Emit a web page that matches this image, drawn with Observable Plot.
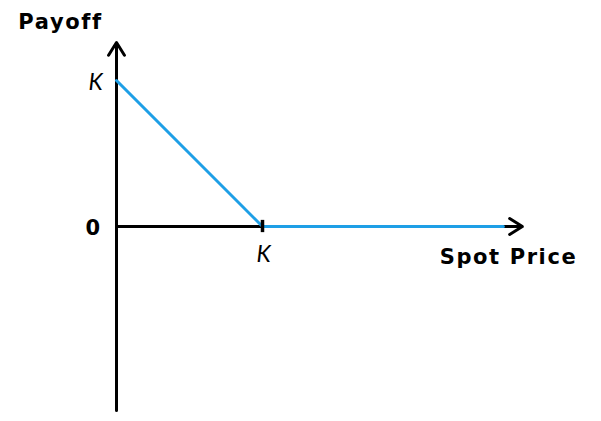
<!DOCTYPE html>
<html><head><meta charset="utf-8">
<script src="https://cdn.jsdelivr.net/npm/d3@7"></script>
<script src="https://cdn.jsdelivr.net/npm/@observablehq/plot@0.6"></script>
<style>
body{margin:0;background:#fff;}
g[font-weight="bold"] text{letter-spacing:1.6px;}
</style>
</head><body><div id="chart"></div>
<script>
const K = 100;
const payoffX = [0, K, 265];
const payoffY = [K, 0, 0];
const axisExtent = {xMax: 278, yMin: -126, yMax: 126};
const yTickValues = [K, 0];
const yTickLabels = ["K", "0"];
const xTickValues = [K];
const xTickLabels = ["K"];
const yTitle = "Payoff";
const xTitle = "Spot Price";

const payoff = payoffX.map((x, i) => ({x, y: payoffY[i]}));
const boldFont = "'DejaVu Sans', sans-serif";
const italicFont = "Lato, 'Open Sans', sans-serif";

const chart = Plot.plot({
  width: 601, height: 421,
  margin: 0,
  x: {domain: [0, 300], range: [116, 554], axis: null},
  y: {domain: [-130, 130], range: [415.8, 36.2], axis: null},
  style: {fontFamily: italicFont, background: "#fff"},
  marks: [
    Plot.arrow([{x1: 0, y1: axisExtent.yMin, x2: 0, y2: axisExtent.yMax}], {x1: "x1", y1: "y1", x2: "x2", y2: "y2", stroke: "#000", strokeWidth: 3, headLength: 7.5, headAngle: 64}),
    Plot.arrow([{x1: 0, y1: 0, x2: axisExtent.xMax, y2: 0}], {x1: "x1", y1: "y1", x2: "x2", y2: "y2", stroke: "#000", strokeWidth: 3, headLength: 7.5, headAngle: 64}),
    Plot.line(payoff, {x: "x", y: "y", stroke: "#1e9fe6", strokeWidth: 3, strokeLinejoin: "miter"}),
    Plot.ruleX(xTickValues, {y1: -4.2, y2: 4.2, stroke: "#000", strokeWidth: 3.5}),
    // y tick labels: "K" italic, "0" bold
    Plot.text(yTickValues.filter((d, i) => yTickLabels[i] === "K"), {x: 0, y: d => d, text: () => "K", dx: -21, dy: 2.6, fontSize: 23, fontStyle: "italic", fontFamily: italicFont, fill: "#000"}),
    Plot.text(yTickValues.filter((d, i) => yTickLabels[i] !== "K"), {x: 0, y: d => d, text: d => yTickLabels[yTickValues.indexOf(d)], dx: -23, dy: 2, fontSize: 21, fontWeight: "bold", fontFamily: boldFont, fill: "#000"}),
    Plot.text(xTickValues, {x: d => d, y: 0, text: (d, i) => xTickLabels[i], dx: 1, dy: 28.6, fontSize: 23, fontStyle: "italic", fontFamily: italicFont, fill: "#000"}),
    Plot.text([yTitle], {x: 0, y: 0, text: d => d, dx: -56, dy: -204.4, fontSize: 21, fontWeight: "bold", fontFamily: boldFont, fill: "#000"}),
    Plot.text([xTitle], {x: 0, y: 0, text: d => d, dx: 392, dy: 30.3, fontSize: 21, fontWeight: "bold", fontFamily: boldFont, fill: "#000"})
  ]
});
document.getElementById("chart").appendChild(chart);
</script></body></html>
